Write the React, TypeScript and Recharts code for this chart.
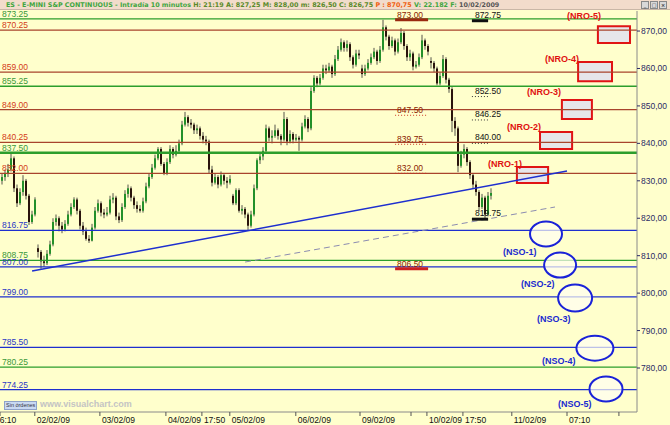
import React from "react";
import {
  ComposedChart,
  Bar,
  XAxis,
  YAxis,
  ReferenceLine,
  ReferenceArea,
  ReferenceDot,
} from "recharts";

const FONT = "'Liberation Sans', Arial, sans-serif";

// 10 minute candles, ES continuous
const opens = [
  830, 831, 832, 833, 836, 828, 824, 827, 830, 826,
  819, 821, 812, 811, 808.5, 808, 810.5, 813, 819, 820,
  818, 817, 818.5, 821, 823, 825, 822, 818, 816.5, 814.5,
  814, 817.5, 822, 824, 821.5, 821, 821.5, 825, 825.5, 820.5,
  819.5, 823, 826.5, 828, 825.5, 823.5, 822.5, 822, 824.5, 828.5,
  831, 833.5, 836, 838.5, 834.5, 832, 835, 838.5, 837, 838,
  840, 845, 847, 845.5, 845, 843.5, 844, 842, 841, 840.5,
  833, 829.5, 831, 829, 831.5, 830, 829.5, 826, 824, 827.5,
  822, 822.5, 821, 818, 821, 828, 835.5, 836.5, 838, 844,
  841.5, 842, 843.5, 842, 841, 846.5, 840.5, 842.5, 841, 841.5,
  841, 844.5, 846.5, 844, 854, 857.5, 856, 857.5, 860, 859.5,
  860.5, 858.5, 862.5, 865, 867, 865.5, 866.5, 863, 861, 864,
  860, 858.5, 860, 861.5, 863, 864.5, 862, 865, 871, 868.5,
  866, 867.5, 864.5, 867, 869.5, 866, 863, 864, 860.5, 861,
  863, 867.5, 866, 862, 861.5, 860, 856, 858, 862.5, 857,
  854.5, 846, 844, 834, 837, 838.5, 835, 831.5, 829, 827,
  823, 825.5, 821, 826,
];
const closes = [
  831, 832, 833, 836, 828, 824, 827, 830, 826, 819,
  821, 825, 811, 808.5, 808, 810.5, 813, 819, 820, 818,
  817, 818.5, 821, 823, 825, 822, 818, 816.5, 814.5, 814,
  817.5, 822, 824, 821.5, 821, 821.5, 825, 825.5, 820.5, 819.5,
  823, 826.5, 828, 825.5, 823.5, 822.5, 822, 824.5, 828.5, 831,
  833.5, 836, 838.5, 834.5, 832, 835, 838.5, 837, 838, 840,
  845, 847, 845.5, 845, 843.5, 844, 842, 841, 840.5, 833,
  829.5, 831, 829, 831.5, 830, 829.5, 830.5, 824, 827.5, 822,
  822.5, 821, 818, 821, 828, 835.5, 836.5, 838, 844, 841.5,
  842, 843.5, 842, 841, 846.5, 840.5, 842.5, 841, 841.5, 841,
  844.5, 846.5, 844, 854, 857.5, 856, 857.5, 860, 859.5, 860.5,
  858.5, 862.5, 865, 867, 865.5, 866.5, 863, 861, 864, 863.5,
  858.5, 860, 861.5, 863, 864.5, 862, 865, 871, 868.5, 866,
  867.5, 864.5, 867, 869.5, 866, 863, 864, 860.5, 861, 863,
  867.5, 866, 864.5, 861.5, 860, 856, 858, 862.5, 857, 854.5,
  846, 844, 834, 837, 838.5, 835, 831.5, 829, 827, 823,
  825.5, 821, 826, 826.75,
];
const highs = [
  832, 833, 834.5, 837.5, 836.5, 829, 828, 831.5, 830.5, 826.5,
  822, 825.6, 813, 811.5, 810, 811.5, 814, 820, 821, 820.5,
  819, 819.5, 822, 824, 825.6, 825.5, 822.5, 819, 817.5, 815.5,
  818.5, 823, 825, 824.5, 822.5, 823, 826, 826.7, 826, 821.5,
  824, 827.5, 829, 828.5, 826, 824.5, 823.5, 825.5, 829.5, 832,
  834.5, 837, 839, 839, 835, 836, 839.5, 839, 839.5, 841,
  846, 848.4, 847.5, 846.5, 845.5, 845, 844.5, 843, 842, 841,
  834, 832, 831.5, 832.5, 832, 831, 831.5, 826.5, 828, 828,
  823.5, 823, 821.5, 822, 829, 836, 837.7, 839, 845, 844.5,
  843.5, 845, 844, 842.5, 848.4, 847, 843.5, 843, 842.5, 842,
  845.5, 847.5, 847, 855, 858.2, 858, 858.5, 861, 861, 861.5,
  861, 863.6, 866, 868, 867.5, 867.5, 867, 863.5, 865, 865,
  861, 861, 862.5, 864, 865.5, 865, 866, 873, 871.5, 869,
  868.5, 868, 868, 870.8, 870, 866.5, 865, 864.5, 862, 864,
  869, 868, 866.5, 863, 862, 860.5, 859, 863.6, 863, 857.5,
  855, 847, 844.5, 838, 839.75, 839, 835.5, 832, 830, 827.5,
  826.5, 826, 827, 828,
];
const lows = [
  829, 830, 831, 832.5, 827, 823, 823.5, 826, 825, 818.2,
  818.5, 820.5, 809.5, 806.5, 807, 807.5, 810, 812.5, 818, 816.5,
  816, 816.5, 818, 820.5, 822.5, 821, 817, 815.5, 814, 813.4,
  813.8, 817, 821.5, 820.5, 820, 820.5, 821, 824, 819.5, 818.7,
  819, 822.5, 825.5, 824.5, 822.5, 821.5, 821.5, 821.5, 824, 828,
  830.5, 833, 835.5, 834, 831.5, 831.5, 834.5, 836, 836.5, 837.5,
  839.5, 844.5, 844.5, 844, 842.5, 842.5, 841, 840, 839.5, 832,
  828.5, 829, 828, 828.5, 829, 828, 829, 823.5, 823.5, 821.5,
  821, 820, 816.75, 817.5, 820.5, 827.5, 834.5, 835.5, 837.5, 840.5,
  840, 841.5, 841, 839.5, 840.5, 839.5, 840, 840, 840.5, 838,
  840.5, 844, 843, 843.5, 853.5, 855, 855.5, 857, 858.5, 859,
  857.5, 858, 862, 864.5, 864.5, 864.5, 862, 860, 860.5, 862.5,
  857.5, 858, 859.5, 861, 862.5, 861, 861.5, 864.5, 867.5, 865,
  865.5, 863.5, 864, 866.5, 865, 862, 862, 859.5, 860, 860.5,
  862.5, 865, 863.5, 860, 859, 855.5, 855.5, 857.5, 856, 853.5,
  843, 842, 832.3, 833.5, 836, 834, 830.5, 828, 826, 822,
  822.5, 819.75, 820.5, 825,
];

// horizontal levels drawn across the chart
const levelValues = [873.25, 870.25, 859.0, 855.25, 849.0, 840.25, 837.5, 832.0, 816.75, 808.75, 807.0, 799.0, 785.5, 780.25, 774.25];
const levelKinds = ["green", "red", "red", "green", "red", "red", "green", "red", "blue", "green", "blue", "blue", "blue", "green", "blue"];

// short marked prices
const markValues = [873.0, 847.5, 839.75, 832.0, 806.5, 872.75, 852.5, 846.25, 840.0, 819.75];
const markKinds = ["red", "redDot", "redDot", "redDot", "redBold", "black", "blackDot", "blackDot", "blackDot", "black"];
const markGroup = ["left", "left", "left", "left", "left", "right", "right", "right", "right", "right"];

// targets: resistance boxes and support ellipses
const nroNames = ["(NRO-1)", "(NRO-2)", "(NRO-3)", "(NRO-4)", "(NRO-5)"];
const nsoNames = ["(NSO-1)", "(NSO-2)", "(NSO-3)", "(NSO-4)", "(NSO-5)"];

// trend lines: [x index, price]
const trendMain = [[10.7, 805.9], [189, 832.6]];
const trendDashed = [[81.7, 808.3], [185, 823.0]];

const yTickValues = [780, 790, 800, 810, 820, 830, 840, 850, 860, 870];
const xTickValues = [0, 11.6, 33.3, 55.3, 67.3, 76.6, 98.6, 120, 137, 142.3, 154.3, 170.6, 189, 206.3];
const xTickLabels = ["16:10", "02/02/09", "03/02/09", "04/02/09", "17:50", "05/02/09", "06/02/09", "09/02/09", "", "10/02/09", "17:50", "11/02/09", "07:10", ""];

const candles = closes.map((c, i) => ({
  t: i + 0.5,
  range: [lows[i], highs[i]],
  open: opens[i],
  close: c,
  high: highs[i],
  low: lows[i],
}));

const lineColor: Record<string, string> = { red: "#a8442c", green: "#2c9e2c", blue: "#1e2fcf" };
const labelColor: Record<string, string> = { red: "#d33c18", green: "#3a983a", blue: "#2a36c6" };

// layout placements in chart units (index, price)
const groupSpan: Record<string, number[]> = { left: [131.7, 142.7], right: [157.3, 162.7] };
const nroBoxes = [
  [172.3, 182.7, 829.4, 833.7],
  [180, 190.7, 838.5, 843.0],
  [187.3, 197.3, 846.5, 851.6],
  [192.7, 204, 856.6, 861.7],
  [199.3, 210, 866.8, 871.3],
];
const nroLabelAt = [[162.7, 833.7], [169, 843.55], [175.7, 852.9], [181.7, 861.7], [189, 873.2]];
const nsoCenters = [[182, 815.8, 16, 12.5], [186.7, 807.5, 16, 12.5], [191.7, 798.7, 17, 13.5], [198.3, 785.3, 18.5, 12.5], [202, 774.4, 16.5, 12.5]];
const nsoLabelAt = [[167.7, 810.2], [173.7, 801.6], [179, 792.3], [180.7, 781.1], [186, 769.6]];

const markStyle: Record<string, { stroke: string; width: number; dash?: string; text: string }> = {
  red: { stroke: "#9a2a10", width: 3, text: "#8c1c00" },
  redBold: { stroke: "#cc2020", width: 3, text: "#8c1c00" },
  redDot: { stroke: "#cc3322", width: 1, dash: "1 2", text: "#8c1c00" },
  black: { stroke: "#111111", width: 3, text: "#111111" },
  blackDot: { stroke: "#333333", width: 1, dash: "1 2", text: "#111111" },
};

const Candle = (props: any) => {
  const { x, y, width, height, payload } = props;
  if (!payload) return null;
  const { open, close, high, low } = payload;
  const top = Math.min(y, y + height);
  const h = Math.abs(height);
  const k = high === low ? 0 : h / (high - low);
  const yo = top + (high - open) * k;
  const yc = top + (high - close) * k;
  const up = close >= open;
  const cx = x + width / 2;
  return (
    <g>
      <line x1={cx} x2={cx} y1={top} y2={top + h} stroke="#55554a" strokeWidth={1} />
      <rect
        x={cx - 1}
        y={Math.min(yo, yc)}
        width={2}
        height={Math.max(1, Math.abs(yc - yo))}
        fill={up ? "#23902a" : "#2a140c"}
      />
    </g>
  );
};

const XTick = (props: any) => {
  const { x, y, payload, index } = props;
  const i = xTickValues.indexOf(payload.value);
  const label = i >= 0 ? xTickLabels[i] : "";
  return (
    <text x={x + (index === 0 ? -5 : 2)} y={y + 5} fontSize={8.5} fill="#111" fontFamily={FONT}>
      {label}
    </text>
  );
};

export default function App() {
  return (
    <div style={{ position: "absolute", left: 0, top: 0, width: 670, height: 425, background: "#ffffcc", overflow: "hidden" }}>
      <ComposedChart width={670} height={425} data={candles} margin={{ top: 11, right: 0, bottom: 0, left: 0 }}>
        <XAxis
          dataKey="t"
          type="number"
          domain={[0, 212.33]}
          allowDataOverflow
          ticks={xTickValues}
          interval={0}
          height={13}
          tickSize={4}
          tickLine={{ stroke: "#555" }}
          axisLine={{ stroke: "#8a8a8a" }}
          tick={<XTick />}
        />
        <YAxis
          orientation="right"
          type="number"
          domain={[768.25, 875.35]}
          allowDataOverflow
          ticks={yTickValues}
          width={33}
          tickSize={3}
          tickMargin={1}
          tickLine={{ stroke: "#2b2b66" }}
          axisLine={{ stroke: "#8a8a8a" }}
          tick={{ fill: "#2b2b66", fontSize: 8.5, fontFamily: FONT }}
          tickFormatter={(v: number) => v.toFixed(2).replace(".", ",")}
        />

        {levelValues.map((v, i) => (
          <ReferenceLine
            key={"lv" + i}
            y={v}
            stroke={lineColor[levelKinds[i]]}
            strokeWidth={v === 837.5 ? 2.5 : 1.3}
            label={{
              value: v.toFixed(2),
              position: "insideBottomLeft",
              offset: 2,
              fill: labelColor[levelKinds[i]],
              fontSize: 8.5,
              fontFamily: FONT,
            }}
          />
        ))}

        {nroBoxes.map((b, i) => (
          <ReferenceArea
            key={"nb" + i}
            x1={b[0]}
            x2={b[1]}
            y1={b[2]}
            y2={b[3]}
            fill="#e6e6ea"
            fillOpacity={1}
            stroke="#e01414"
            strokeWidth={2}
          />
        ))}

        <ReferenceLine
          segment={[{ x: trendMain[0][0], y: trendMain[0][1] }, { x: trendMain[1][0], y: trendMain[1][1] }]}
          stroke="#1e2fcf"
          strokeWidth={1.5}
        />
        <ReferenceLine
          segment={[{ x: trendDashed[0][0], y: trendDashed[0][1] }, { x: trendDashed[1][0], y: trendDashed[1][1] }]}
          stroke="#8c8cb0"
          strokeWidth={1}
          strokeDasharray="6 4"
        />

        {markValues.map((v, i) => {
          const s = markStyle[markKinds[i]];
          const span = groupSpan[markGroup[i]];
          return (
            <ReferenceLine
              key={"mk" + i}
              segment={[{ x: span[0], y: v }, { x: span[1], y: v }]}
              stroke={s.stroke}
              strokeWidth={s.width}
              strokeDasharray={s.dash}
              label={{
                value: v.toFixed(2),
                position: "insideBottomLeft",
                offset: markGroup[i] === "left" ? 2 : 3,
                fill: s.text,
                fontSize: 8.5,
                fontFamily: FONT,
              }}
            />
          );
        })}

        {nsoCenters.map((c, i) => (
          <ReferenceDot
            key={"ne" + i}
            x={c[0]}
            y={c[1]}
            r={1}
            shape={(p: any) => (
              <ellipse cx={p.cx} cy={p.cy} rx={c[2]} ry={c[3]} fill="#fffdf2" fillOpacity={0.7} stroke="#1a22d8" strokeWidth={2} />
            )}
          />
        ))}

        {nroLabelAt.map((p, i) => (
          <ReferenceDot
            key={"nl" + i}
            x={p[0]}
            y={p[1]}
            r={1}
            shape={(q: any) => (
              <text x={q.cx} y={q.cy} fontSize={9} fontWeight="bold" fill="#e01010" fontFamily={FONT}>
                {nroNames[i]}
              </text>
            )}
          />
        ))}
        {nsoLabelAt.map((p, i) => (
          <ReferenceDot
            key={"sl" + i}
            x={p[0]}
            y={p[1]}
            r={1}
            shape={(q: any) => (
              <text x={q.cx} y={q.cy} fontSize={9} fontWeight="bold" fill="#1a2ad0" fontFamily={FONT}>
                {nsoNames[i]}
              </text>
            )}
          />
        ))}

        <Bar dataKey="range" barSize={2} isAnimationActive={false} shape={(p: any) => <Candle {...p} />} />
      </ComposedChart>

      <div
        style={{
          position: "absolute",
          left: 0,
          top: 0,
          width: 670,
          height: 10,
          background: "#f2dccb",
          borderBottom: "1px solid #c9b7a6",
          fontFamily: "'DejaVu Sans', sans-serif",
          fontSize: 6.4,
          fontWeight: "bold",
          lineHeight: "10px",
          whiteSpace: "nowrap",
          paddingLeft: 6,
          boxSizing: "border-box",
        }}
      >
        <span style={{ color: "#3fa63f" }}>ES - E-MINI S&amp;P CONTINUOUS - Intradía 10 minutos </span>
        <span style={{ color: "#5a8a2a" }}>H: 21:19 A: 827,25 M: 828,00 m: 826,50 C: 826,75 </span>
        <span style={{ color: "#f06010" }}>P : 870,75 </span>
        <span style={{ color: "#3fa63f" }}>V: 22.182 F: </span>
        <span style={{ color: "#555" }}>10/02/2009</span>
        <div style={{ position: "absolute", right: 3, top: 1, display: "flex", gap: 1 }}>
          {["_", "□", "×"].map((s) => (
            <div
              key={s}
              style={{ width: 6, height: 6, background: "#d8d8d8", border: "1px solid #888", fontSize: 5, lineHeight: "6px", textAlign: "center", color: "#333" }}
            >
              {s}
            </div>
          ))}
        </div>
      </div>

      <div
        style={{
          position: "absolute",
          left: 4,
          top: 401,
          height: 7,
          padding: "0 1px",
          background: "#c9d9f2",
          border: "1px solid #8fa2c8",
          fontFamily: FONT,
          fontSize: 5.5,
          lineHeight: "7px",
          color: "#334",
        }}
      >
        Sin órdenes
      </div>
      <div
        style={{
          position: "absolute",
          left: 40,
          top: 399,
          fontFamily: FONT,
          fontSize: 9,
          fontWeight: "bold",
          color: "#c4c4c4",
          lineHeight: "10px",
        }}
      >
        www.visualchart.com
      </div>
    </div>
  );
}
